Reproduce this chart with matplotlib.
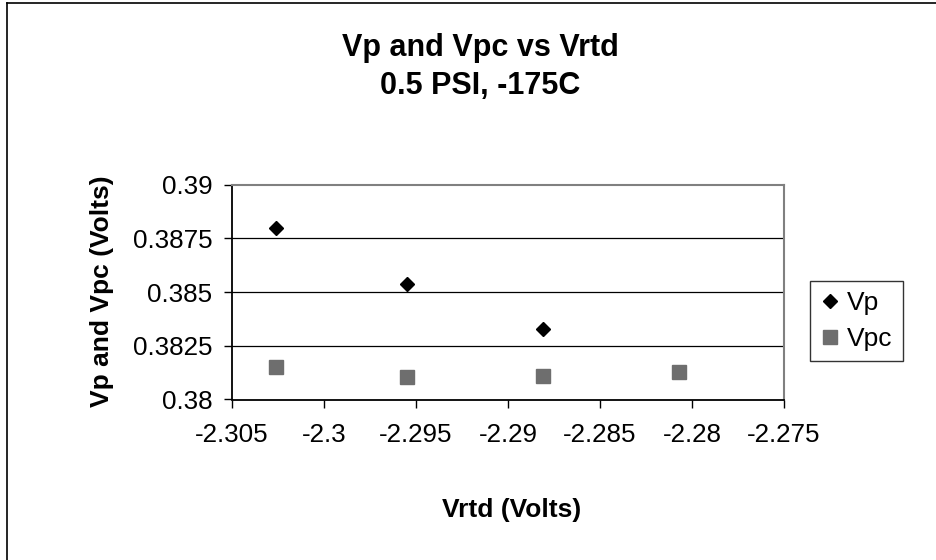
import matplotlib
matplotlib.use('Agg')
import matplotlib.pyplot as plt
from matplotlib.lines import Line2D

plt.rcParams['font.family'] = ['Liberation Sans', 'DejaVu Sans']

# values
vrtd = [-2.3026, -2.2955, -2.2881, -2.2807]
vp = [0.38800, 0.38536, 0.38328, 0.38128]
vpc = [0.38152, 0.38104, 0.38110, 0.38130]
x_ticks = [-2.305, -2.3, -2.295, -2.29, -2.285, -2.28, -2.275]
y_ticks = [0.38, 0.3825, 0.385, 0.3875, 0.39]
y_tick_labels = ['0.38', '0.3825', '0.385', '0.3875', '0.39']

W, H = 936, 560
fig = plt.figure(figsize=(W / 100, H / 100), dpi=100)
fig.patch.set_facecolor('white')

# outer chart border (only left and top visible in the reference)
fig.add_artist(Line2D([7 / W, 7 / W], [0, 1 - 3 / H], color='black', lw=1.2))
fig.add_artist(Line2D([7 / W, 1], [1 - 3 / H, 1 - 3 / H], color='black', lw=1.2))

left, right, top, bottom = 232, 784, 184.5, 399.5
ax = fig.add_axes([left / W, 1 - bottom / H, (right - left) / W, (bottom - top) / H])

sq_color = '#6e6e6e'
ax.plot(vrtd, vp, linestyle='none', marker='D', markersize=7,
        color='black', label='Vp', zorder=3)
ax.plot(vrtd, vpc, linestyle='none', marker='s', markersize=10,
        color=sq_color, label='Vpc', zorder=4)

ax.set_xlim(-2.305, -2.275)
ax.set_ylim(0.38, 0.39)
ax.set_xticks(x_ticks)
ax.set_xticklabels([f'{t:g}' for t in x_ticks])
ax.set_yticks(y_ticks)
ax.set_yticklabels(y_tick_labels)
ax.tick_params(axis='both', direction='out', length=6, width=1, labelsize=18.7,
               color='black')
ax.tick_params(axis='y', pad=8)
ax.tick_params(axis='x', pad=11)

for yv in y_ticks[1:-1]:
    ax.axhline(yv, color='black', lw=0.9, zorder=1)

ax.spines['left'].set_color('black')
ax.spines['bottom'].set_color('black')
ax.spines['left'].set_linewidth(1.3)
ax.spines['bottom'].set_linewidth(1.3)
ax.spines['top'].set_color('#808080')
ax.spines['right'].set_color('#808080')
ax.spines['top'].set_linewidth(1.5)
ax.spines['right'].set_linewidth(1.5)

fig.text(480 / W, 1 - 48 / H, 'Vp and Vpc vs Vrtd', ha='center', va='center',
         fontsize=22, fontweight='bold')
fig.text(480 / W, 1 - 86 / H, '0.5 PSI, -175C', ha='center', va='center',
         fontsize=22, fontweight='bold')
fig.text(512 / W, 1 - 510 / H, 'Vrtd (Volts)', ha='center', va='center',
         fontsize=19, fontweight='bold')
fig.text(102 / W, 1 - 291 / H, 'Vp and Vpc (Volts)', ha='center', va='center',
         fontsize=19, fontweight='bold', rotation=90)

leg = fig.legend(loc='center left', bbox_to_anchor=(810 / W, 1 - 321 / H),
                 fontsize=19, frameon=True, fancybox=False, edgecolor='black',
                 borderpad=0.4, handlelength=0.7, handletextpad=0.3,
                 labelspacing=0.45, borderaxespad=0, markerscale=1.05)
leg.get_frame().set_linewidth(1.0)

fig.savefig('out.png', dpi=100)
